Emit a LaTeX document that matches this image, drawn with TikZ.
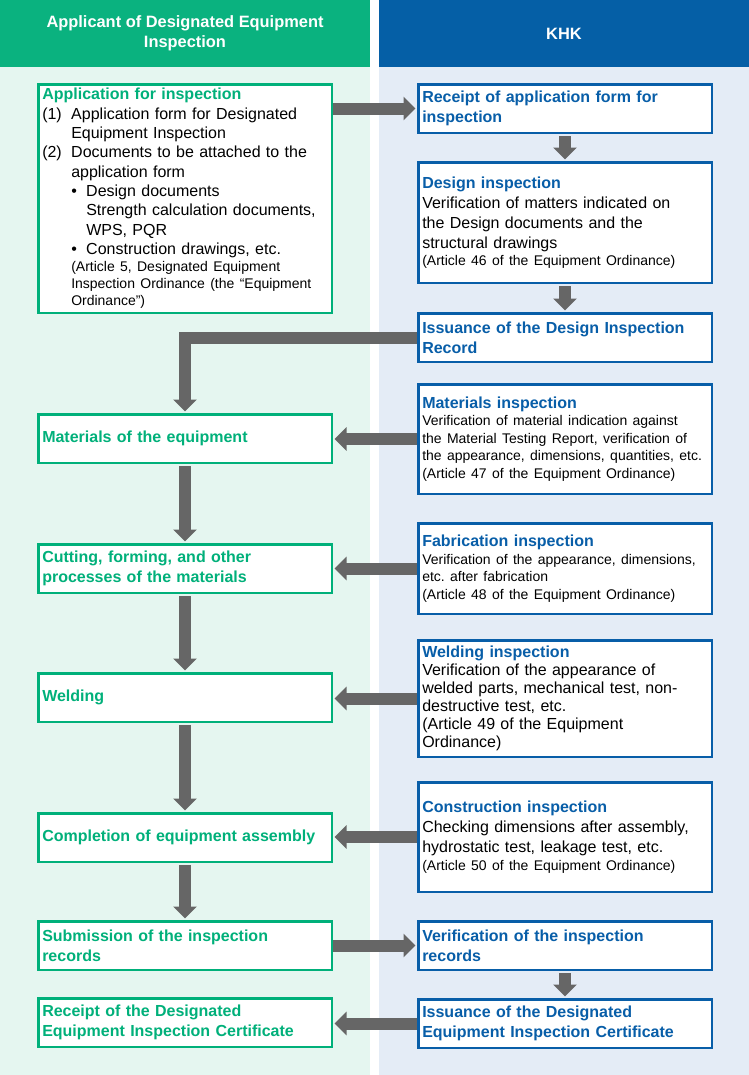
\documentclass[tikz,border=0pt]{standalone}
\usepackage{fontspec}
\setmainfont{Liberation Sans}
\usetikzlibrary{arrows.meta}
\frenchspacing
\newlength\pxu
\setlength\pxu{0.75pt}
\definecolor{kgreen}{RGB}{0,176,122}
\definecolor{kgreenhead}{RGB}{10,178,127}
\definecolor{kgreenbg}{RGB}{229,246,240}
\definecolor{kblue}{RGB}{8,94,168}
\definecolor{kbluehead}{RGB}{5,95,166}
\definecolor{kbluebg}{RGB}{228,236,246}
\definecolor{kgray}{RGB}{102,102,102}
\newcommand\smalltxt{\fontsize{10.5}{13.1}\selectfont}
\newcommand\gtitle[1]{{\color{kgreen}\bfseries #1}}
\newcommand\btitle[1]{{\color{kblue}\bfseries #1}}
\begin{document}
\begin{tikzpicture}[x=0.75pt,y=-0.75pt,
  head/.style={minimum width=370\pxu,minimum height=67\pxu,inner sep=0pt,text=white,align=center,font=\fontsize{12.3}{15}\selectfont\bfseries},
  box/.style={draw,line width=2.5\pxu,fill=white,minimum width=293.5\pxu,text width=285.5\pxu,inner xsep=4\pxu,inner ysep=0pt,align=left,font=\fontsize{12}{15}\selectfont},
  lbox/.style={box,draw=kgreen},
  rbox/.style={box,draw=kblue},
  flow/.style={draw=kgray,line width=12\pxu,-{Triangle[length=9pt,width=17.25pt]},shorten >=1.5\pxu}]
  \useasboundingbox (0,0) rectangle (749,1075);
  \fill[kgreenbg] (0,67) rectangle (370,1075);
  \fill[kbluebg] (379,67) rectangle (749,1075);
  \node[head,fill=kgreenhead] (hleft) at (185,33.5) {Applicant of Designated Equipment\\Inspection};
  \node[head,fill=kbluehead] (hright) at (564,33.5) {KHK};
  % applicant side
  \node[lbox,minimum height=228.5\pxu,font=\fontsize{12}{14.5}\selectfont] (app) at (185,198.5) {\gtitle{Application for inspection}\\
    \makebox[29\pxu][l]{(1)}Application form for Designated\\
    \hspace*{29\pxu}Equipment Inspection\\
    \makebox[29\pxu][l]{(2)}Documents to be attached to the\\
    \hspace*{29\pxu}application form\\
    \hspace*{29\pxu}\makebox[15\pxu][l]{\textbullet}Design documents\\
    \hspace*{44\pxu}Strength calculation documents,\\
    \hspace*{44\pxu}WPS, PQR\\
    \hspace*{29\pxu}\makebox[15\pxu][l]{\textbullet}Construction drawings, etc.\par
    {\fontsize{10.5}{12.9}\selectfont\leftskip=29\pxu (Article 5, Designated Equipment\\Inspection Ordinance (the “Equipment\\Ordinance”)\par}};
  \node[lbox,minimum height=48.5\pxu] (mat) at (185,438.5) {\gtitle{Materials of the equipment}};
  \node[lbox,minimum height=48.5\pxu] (cut) at (185,568.5) {\gtitle{Cutting, forming, and other\\processes of the materials}};
  \node[lbox,minimum height=48.5\pxu] (weld) at (185,697.5) {\gtitle{Welding}};
  \node[lbox,minimum height=48.5\pxu] (comp) at (185,837.5) {\gtitle{Completion of equipment assembly}};
  \node[lbox,minimum height=48.5\pxu] (sub) at (185,945.5) {\gtitle{Submission of the inspection\\records}};
  \node[lbox,minimum height=48.5\pxu] (rcert) at (185,1022.5) {\gtitle{Receipt of the Designated\\Equipment Inspection Certificate}};
  % KHK side
  \node[rbox,minimum height=48.5\pxu] (rec) at (565,108.5) {\btitle{Receipt of application form for\\inspection}};
  \node[rbox,minimum height=120.5\pxu] (des) at (565,222.5) {\btitle{Design inspection}\\
    Verification of matters indicated on\\the Design documents and the\\structural drawings\par
    {\smalltxt(Article 46 of the Equipment Ordinance)\par}};
  \node[rbox,minimum height=48.5\pxu] (isdes) at (565,337.5) {\btitle{Issuance of the Design Inspection\\Record}};
  \node[rbox,minimum height=109.5\pxu] (matins) at (565,439) {\btitle{Materials inspection}\par
    {\smalltxt Verification of material indication against\\the Material Testing Report, verification of\\the appearance, dimensions, quantities, etc.\\(Article 47 of the Equipment Ordinance)\par}};
  \node[rbox,minimum height=90.5\pxu] (fabins) at (565,568.5) {\btitle{Fabrication inspection}\par
    {\smalltxt Verification of the appearance, dimensions,\\etc. after fabrication\\(Article 48 of the Equipment Ordinance)\par}};
  \node[rbox,minimum height=116.5\pxu,font=\fontsize{12}{13.5}\selectfont] (weldins) at (565,698.5) {\btitle{Welding inspection}\\
    Verification of the appearance of\\welded parts, mechanical test, non-\\destructive test, etc.\\(Article 49 of the Equipment\\Ordinance)};
  \node[rbox,minimum height=109.5\pxu] (conins) at (565,837) {\btitle{Construction inspection}\\
    Checking dimensions after assembly,\\hydrostatic test, leakage test, etc.\par
    {\smalltxt(Article 50 of the Equipment Ordinance)\par}};
  \node[rbox,minimum height=48.5\pxu] (ver) at (565,945.5) {\btitle{Verification of the inspection\\records}};
  \node[rbox,minimum height=48.5\pxu] (iscert) at (565,1023.5) {\btitle{Issuance of the Designated\\Equipment Inspection Certificate}};
  % flow
  \draw[flow] (rec.west -| app.east) -- (rec.west);
  \draw[flow,shorten <=2\pxu] (rec.south) -- (des.north);
  \draw[flow,shorten <=2\pxu] (des.south) -- (isdes.north);
  \draw[flow] (isdes.west) -| (mat.north);
  \draw[flow] (matins.west) -- (matins.west -| mat.east);
  \draw[flow,shorten <=2\pxu] (mat.south) -- (cut.north);
  \draw[flow] (fabins.west) -- (fabins.west -| cut.east);
  \draw[flow,shorten <=2\pxu] (cut.south) -- (weld.north);
  \draw[flow] (weldins.west) -- (weldins.west -| weld.east);
  \draw[flow,shorten <=2\pxu] (weld.south) -- (comp.north);
  \draw[flow] (conins.west) -- (conins.west -| comp.east);
  \draw[flow,shorten <=2\pxu] (comp.south) -- (sub.north);
  \draw[flow] (sub.east) -- (sub.east -| ver.west);
  \draw[flow,shorten <=2\pxu] (ver.south) -- (iscert.north);
  \draw[flow] (iscert.west) -- (iscert.west -| rcert.east);
\end{tikzpicture}
\end{document}
